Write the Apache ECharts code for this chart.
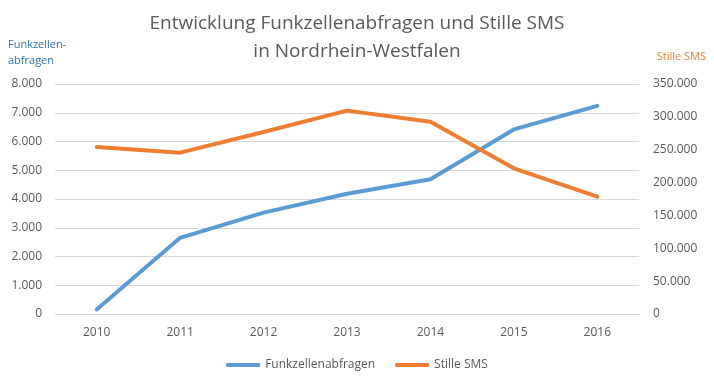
<!DOCTYPE html>
<html><head><meta charset="utf-8">
<script src="https://cdn.jsdelivr.net/npm/echarts@6/dist/echarts.min.js"></script>
<style>html,body{margin:0;padding:0;background:#fff}#c{width:714px;height:390px}</style>
</head><body><div id="c"></div>
<script>
var years = ['2010','2011','2012','2013','2014','2015','2016'];
var funkzellen = [160, 2650, 3525, 4180, 4685, 6420, 7240];
var stilleSms = [254000, 245500, 277000, 309500, 292700, 221700, 178500];
var leftTicks = {min: 0, max: 8000, interval: 1000};
var rightTicks = {min: 0, max: 350000, interval: 50000};

function fmt(v){ return String(v).replace(/\B(?=(\d{3})+(?!\d))/g, '.'); }
var F = 'Open Sans, Noto Sans, sans-serif';
var chart = echarts.init(document.getElementById('c'));
chart.setOption({
  animation: false,
  textStyle: {fontFamily: F},
  title: {
    text: 'Entwicklung Funkzellenabfragen und Stille SMS\nin Nordrhein-Westfalen',
    left: 'center', top: 5,
    textStyle: {fontFamily: F, fontSize: 19, fontWeight: 'normal', color: '#595959', lineHeight: 28}
  },
  graphic: [
    {type: 'text', left: 8, top: 37, style: {text: 'Funkzellen-\nabfragen', fill: '#2E75B6', font: '11px ' + F, lineHeight: 16}},
    {type: 'text', right: 8, top: 51, style: {text: 'Stille SMS', fill: '#ED7D31', font: '11px ' + F}}
  ],
  legend: {
    bottom: 14, left: 'center', itemGap: 20, itemWidth: 34, itemHeight: 4,
    icon: 'roundRect',
    textStyle: {fontFamily: F, fontSize: 12, color: '#595959'},
    data: ['Funkzellenabfragen', 'Stille SMS']
  },
  grid: {left: 55, right: 75, top: 84, bottom: 76, containLabel: false},
  xAxis: {
    type: 'category', data: years, boundaryGap: true,
    axisLine: {show: true, lineStyle: {color: '#d9d9d9'}},
    axisTick: {show: false},
    axisLabel: {color: '#595959', fontSize: 12, margin: 13, fontFamily: F}
  },
  yAxis: [
    {type: 'value', min: leftTicks.min, max: leftTicks.max, interval: leftTicks.interval,
     axisLine: {show: false}, axisTick: {show: false},
     splitLine: {lineStyle: {color: '#d9d9d9'}},
     axisLabel: {color: '#595959', fontSize: 12, margin: 13, formatter: fmt, fontFamily: F}},
    {type: 'value', min: rightTicks.min, max: rightTicks.max, interval: rightTicks.interval,
     axisLine: {show: false}, axisTick: {show: false}, splitLine: {show: false},
     axisLabel: {color: '#595959', fontSize: 12, margin: 14, formatter: fmt, fontFamily: F}}
  ],
  series: [
    {name: 'Funkzellenabfragen', type: 'line', data: funkzellen, yAxisIndex: 0,
     symbol: 'none', lineStyle: {width: 4, color: '#5B9BD5', cap: 'round', join: 'round'}, itemStyle: {color: '#5B9BD5'}},
    {name: 'Stille SMS', type: 'line', data: stilleSms, yAxisIndex: 1,
     symbol: 'none', lineStyle: {width: 4, color: '#ED7D31', cap: 'round', join: 'round'}, itemStyle: {color: '#ED7D31'}}
  ]
});
</script></body></html>
